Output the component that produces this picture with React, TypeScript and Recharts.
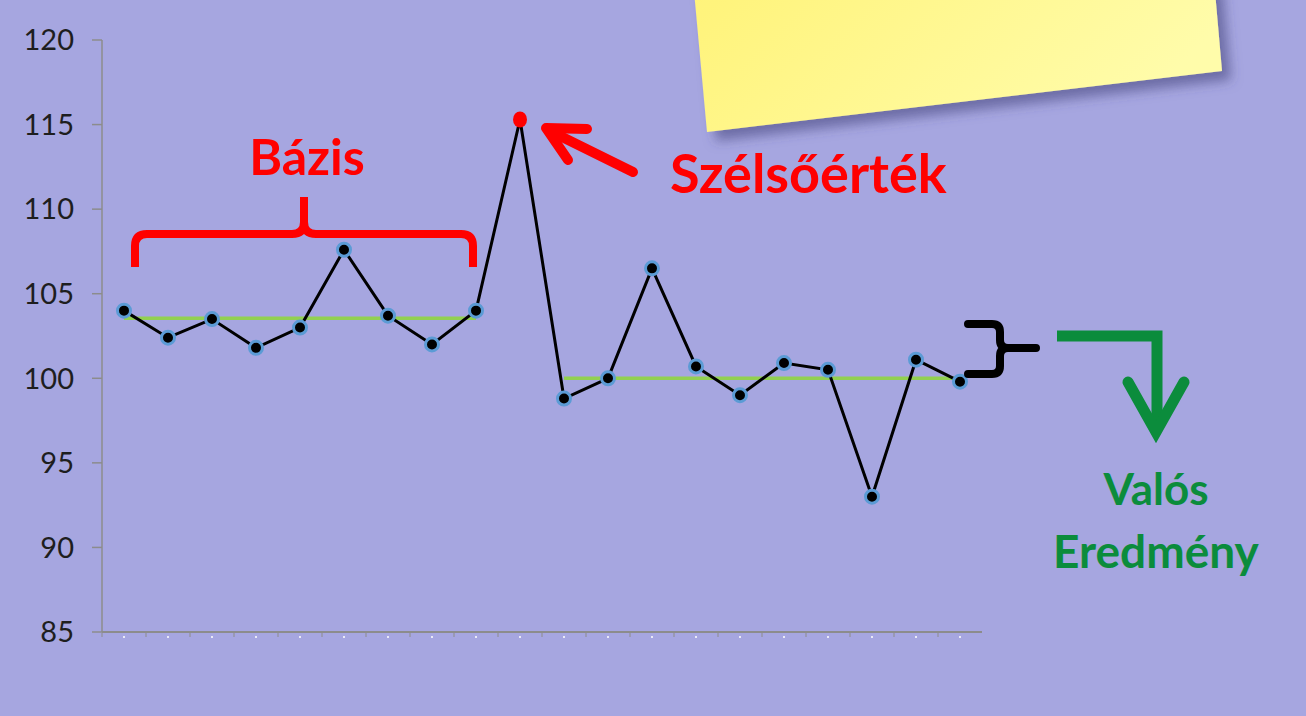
import React from "react";
import { LineChart, Line, XAxis, YAxis } from "recharts";

const categories = ["1", "2", "3", "4", "5", "6", "7", "8", "9", "10", "11", "12", "13", "14", "15", "16", "17", "18", "19", "20"];
const values = [104.0, 102.4, 103.5, 101.8, 103.0, 107.6, 103.7, 102.0, 104.0, 115.3, 98.8, 100.0, 106.5, 100.7, 99.0, 100.9, 100.5, 93.0, 101.1, 99.8];
const baseLevel = [103.55, 103.55, 103.55, 103.55, 103.55, 103.55, 103.55, 103.55, 103.55, null, null, null, null, null, null, null, null, null, null, null];
const resultLevel = [null, null, null, null, null, null, null, null, null, null, 100, 100, 100, 100, 100, 100, 100, 100, 100, 100];
const yTicks = [85, 90, 95, 100, 105, 110, 115, 120];
const outlierIndex = 9;

const data = categories.map((c, i) => ({
  name: c,
  value: values[i],
  base: baseLevel[i],
  result: resultLevel[i],
}));

const BG = "#A6A6E0";
const FONT = "Lato, 'Open Sans', sans-serif";

const renderDot = (props: any) => {
  const { cx, cy, index } = props;
  if (index === outlierIndex) {
    return <ellipse key={index} cx={cx} cy={cy} rx={7} ry={8} fill="#FF0000" />;
  }
  return (
    <circle key={index} cx={cx} cy={cy} r={6.5} fill="#000" stroke="#5B9BD5" strokeWidth={3} />
  );
};

const renderXTick = (props: any) => {
  const { x, y } = props;
  return (
    <g>
      <line x1={x - 22} x2={x - 22} y1={y - 7} y2={y - 3} stroke="#8C8C8C" strokeWidth={1} />
      <circle cx={x} cy={y - 3} r={1} fill="#FFFFFF" />
    </g>
  );
};

function Annotations() {
  return (
    <svg
      width={1306}
      height={716}
      style={{ position: "absolute", left: 0, top: 0, pointerEvents: "none" }}
    >
      <defs>
        <linearGradient id="note" x1="0" y1="0" x2="1" y2="0.3">
          <stop offset="0" stopColor="#FFF378" />
          <stop offset="1" stopColor="#FFFCAA" />
        </linearGradient>
        <filter id="shadow" x="-20%" y="-50%" width="140%" height="200%">
          <feDropShadow dx={9} dy={9} stdDeviation={6} floodColor="#3C3C78" floodOpacity={0.55} />
        </filter>
      </defs>

      {/* sticky note */}
      <polygon
        points="693,-20 1214,-20 1222,71 707,132"
        fill="url(#note)"
        filter="url(#shadow)"
      />

      {/* Bázis bracket */}
      <path
        d="M135,267 L135,246 Q135,234 147,234 L292,234 Q304,234 304,222 L304,197 M304,222 Q304,234 316,234 L461,234 Q473,234 473,246 L473,267"
        fill="none"
        stroke="#FF0000"
        strokeWidth={8}
        strokeLinecap="butt"
        strokeLinejoin="round"
      />
      <text x={307} y={175} textAnchor="middle" fontFamily={FONT} fontWeight={700} fontSize={50} fill="#FF0000">
        Bázis
      </text>

      {/* outlier arrow */}
      <g stroke="#FF0000" strokeWidth={10} strokeLinecap="round" fill="none" strokeLinejoin="round">
        <line x1={633} y1={172} x2={552} y2={132} />
        <polyline points="587,129 546,128 568,160" />
      </g>
      <text x={670} y={193} fontFamily={FONT} fontWeight={700} fontSize={54} fill="#FF0000">
        Szélsőérték
      </text>

      {/* result brace */}
      <path
        d="M968,324 L992,324 Q1000,324 1000,332 L1000,340 Q1000,348 1008,348 L1036,348 M1008,348 Q1000,348 1000,356 L1000,366 Q1000,374 992,374 L968,374"
        fill="none"
        stroke="#000"
        strokeWidth={8}
        strokeLinecap="round"
        strokeLinejoin="round"
      />

      {/* green arrow */}
      <g stroke="#0B8C3C" strokeWidth={11} fill="none" strokeLinejoin="miter">
        <polyline points="1057,336 1157,336 1157,430" strokeLinecap="butt" />
        <polyline points="1128,382 1156,432 1184,382" strokeLinecap="round" strokeLinejoin="miter" />
      </g>
      <text x={1156} y={505} textAnchor="middle" fontFamily={FONT} fontWeight={700} fontSize={44} fill="#0B8C3C">
        Valós
      </text>
      <text x={1156} y={568} textAnchor="middle" fontFamily={FONT} fontWeight={700} fontSize={46} fill="#0B8C3C">
        Eredmény
      </text>
    </svg>
  );
}

export default function App() {
  return (
    <div
      style={{
        position: "absolute",
        left: 0,
        top: 0,
        width: 1306,
        height: 716,
        background: BG,
        overflow: "hidden",
      }}
    >
      <LineChart
        width={1306}
        height={716}
        data={data}
        margin={{ top: 40, right: 324, bottom: 54, left: 2 }}
      >
        <XAxis
          dataKey="name"
          height={30}
          padding={{ left: 22, right: 22 }}
          axisLine={{ stroke: "#8C8C8C", strokeWidth: 2 }}
          tickLine={false}
          tick={renderXTick}
          interval={0}
        />
        <YAxis
          width={100}
          domain={[85, 120]}
          ticks={yTicks}
          axisLine={{ stroke: "#8C8C8C", strokeWidth: 1.5 }}
          tickLine={{ stroke: "#8C8C8C", strokeWidth: 1.5 }}
          tickSize={10}
          tickMargin={18}
          tick={{ fill: "#1E1E1E", fontSize: 29, fontFamily: FONT }}
        />
        <Line
          dataKey="base"
          stroke="#92D050"
          strokeWidth={3.5}
          dot={false}
          isAnimationActive={false}
          connectNulls={false}
        />
        <Line
          dataKey="result"
          stroke="#92D050"
          strokeWidth={3.5}
          dot={false}
          isAnimationActive={false}
          connectNulls={false}
        />
        <Line
          dataKey="value"
          stroke="#000"
          strokeWidth={3}
          dot={renderDot}
          isAnimationActive={false}
        />
      </LineChart>
      <Annotations />
    </div>
  );
}
